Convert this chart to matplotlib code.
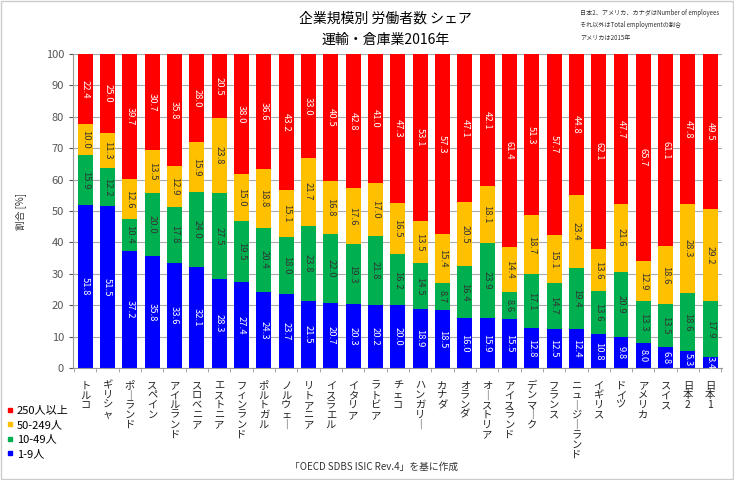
import numpy as np
import matplotlib.pyplot as plt
from matplotlib.patches import Rectangle
from matplotlib.lines import Line2D

plt.rcParams['font.family'] = ['Noto Sans CJK JP', 'DejaVu Sans']

countries = ['トルコ', 'ギリシャ', 'ポーランド', 'スペイン', 'アイルランド', 'スロベニア',
             'エストニア', 'フィンランド', 'ポルトガル', 'ノルウェー', 'リトアニア', 'イスラエル',
             'イタリア', 'ラトビア', 'チェコ', 'ハンガリー', 'カナダ', 'オランダ', 'オーストリア',
             'アイスランド', 'デンマーク', 'フランス', 'ニュージーランド', 'イギリス', 'ドイツ',
             'アメリカ', 'スイス', '日本2', '日本1']

s1_9 = [51.8, 51.5, 37.2, 35.8, 33.6, 32.1, 28.3, 27.4, 24.3, 23.7, 21.5, 20.7, 20.3, 20.2, 20.0,
        18.9, 18.5, 16.0, 15.9, 15.5, 12.8, 12.5, 12.4, 10.8, 9.8, 8.0, 6.8, 5.3, 3.4]
s10_49 = [15.9, 12.2, 10.4, 20.0, 17.8, 24.0, 27.5, 19.5, 20.4, 18.0, 23.8, 22.0, 19.3, 21.8, 16.2,
          14.5, 8.7, 16.4, 23.9, 8.6, 17.1, 14.7, 19.4, 13.6, 20.9, 13.3, 13.5, 18.6, 17.9]
s50_249 = [10.0, 11.3, 12.6, 13.5, 12.9, 15.9, 23.8, 15.0, 18.8, 15.1, 21.7, 16.8, 17.6, 17.0, 16.5,
           13.5, 15.4, 20.5, 18.1, 14.4, 18.7, 15.1, 23.4, 13.6, 21.6, 12.9, 18.6, 28.3, 29.2]
s250 = [22.4, 25.0, 39.7, 30.7, 35.8, 28.0, 20.5, 38.0, 36.6, 43.2, 33.0, 40.5, 42.8, 41.0, 47.3,
        53.1, 57.3, 47.1, 42.1, 61.4, 51.3, 57.7, 44.8, 62.1, 47.7, 65.7, 61.1, 47.8, 49.5]

series = [('1-9人', s1_9, '#0000FF', 'white'),
          ('10-49人', s10_49, '#00B050', '#333333'),
          ('50-249人', s50_249, '#FFC000', '#333333'),
          ('250人以上', s250, '#FF0000', 'white')]

fig = plt.figure(figsize=(7.34, 4.8), dpi=100)
ax = fig.add_axes([0.0995, 0.2333, 0.884, 0.6542])

x = np.arange(len(countries))
bottom = np.zeros(len(countries))
for name, vals, col, tcol in series:
    vals = np.array(vals)
    ax.bar(x, vals, 0.67, bottom=bottom, color=col, zorder=2)
    for xi, b, v in zip(x, bottom, vals):
        ax.text(xi, b + v / 2, '%.1f' % v, rotation=-90, ha='center', va='center',
                fontsize=6.8, color=tcol, zorder=3)
    bottom = bottom + vals

ax.set_xlim(-0.55, len(countries) - 0.48)
ax.set_ylim(0, 100)
ax.set_yticks(np.arange(0, 101, 10))
ax.yaxis.grid(True, color='#aaaaaa', lw=0.8)
ax.set_axisbelow(True)
for sp in ['top', 'right']:
    ax.spines[sp].set_visible(False)
ax.spines['left'].set_color('#999999')
ax.spines['bottom'].set_color('#999999')
ax.tick_params(axis='y', colors='#555555', labelsize=8, length=3)
ax.tick_params(axis='x', length=0, pad=9)

# vertical (tategaki) tick labels
ax.set_xticks(x)
ax.set_xticklabels(['\n'.join(c.replace('ー', '｜')) for c in countries],
                   fontsize=7.4, va='top', linespacing=0.97, color='#222222')
ax.set_xticks(np.arange(len(countries) + 1) - 0.5, minor=True)
ax.tick_params(axis='x', which='minor', length=3, color='#999999')

ax.set_ylabel('割合 [%]', fontsize=7, color='#333333', labelpad=14)

fig.text(0.525, 0.962, '企業規模別 労働者数 シェア', ha='center', va='center', fontsize=10)
fig.text(0.525, 0.918, '運輸・倉庫業2016年', ha='center', va='center', fontsize=10)
notes = ['日本2、アメリカ、カナダはNumber of employees', 'それ以外はTotal employmentの割合', 'アメリカは2015年']
for i, n in enumerate(notes):
    fig.text(0.79, 0.972 - i * 0.025, n, ha='left', va='center', fontsize=4.4, color='#333333')

fig.text(0.51, 0.028, '「OECD SDBS ISIC Rev.4」を基に作成', ha='center', va='center',
         fontsize=7, color='#333333')

handles = [Line2D([], [], marker='s', ls='', color=c, markersize=3) for _, _, c, _ in series[::-1]]
fig.legend(handles, [s[0] for s in series[::-1]], loc='lower left', bbox_to_anchor=(0.0, 0.03),
           frameon=False, fontsize=8, handlelength=0.6, handletextpad=0.3, labelspacing=0.4,
           borderaxespad=0.2)

fig.patches.append(Rectangle((0.002, 0.003), 0.996, 0.994, transform=fig.transFigure,
                             fill=False, ec='#cccccc', lw=1))

fig.savefig('out.png', dpi=100)
